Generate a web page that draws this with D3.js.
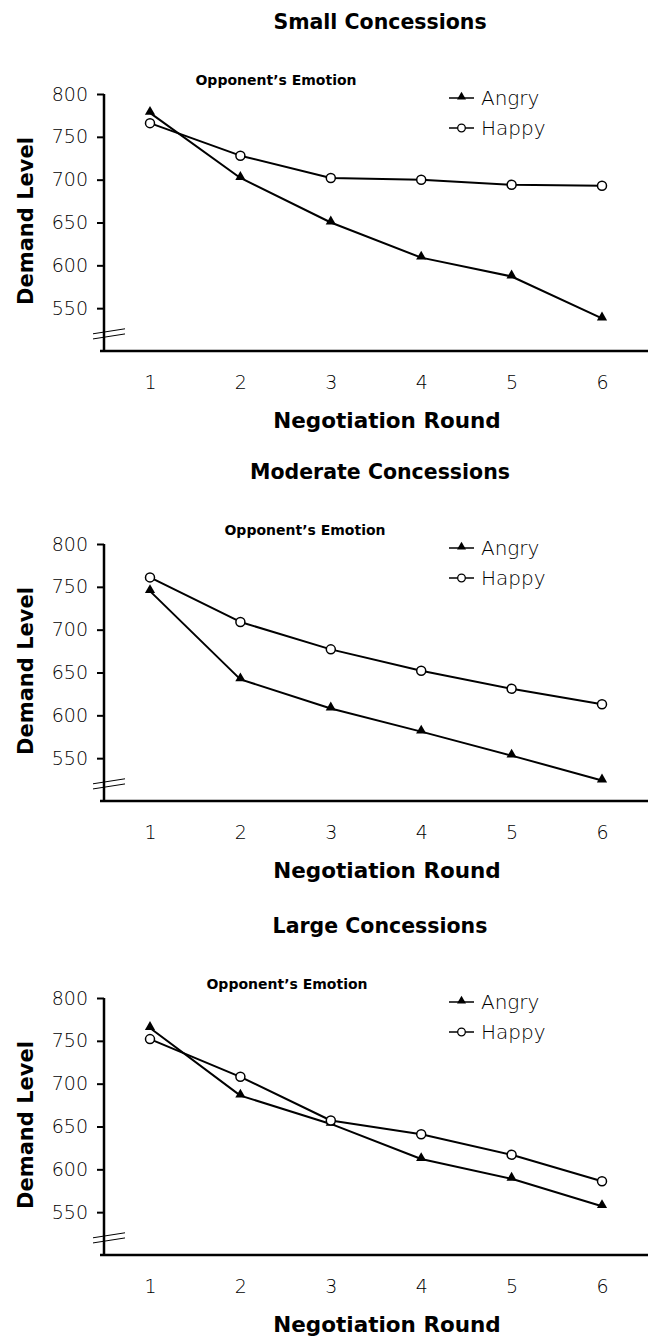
<!DOCTYPE html>
<html>
<head>
<meta charset="utf-8">
<script src="https://cdn.jsdelivr.net/npm/d3@7"></script>
<style>
  body { margin: 0; background: #fff; }
  svg { display: block; font-family: "DejaVu Sans", sans-serif; }
</style>
</head>
<body>
<svg width="652" height="1337"></svg>
<script>
// data
var rounds = [1, 2, 3, 4, 5, 6];
var yTicks = [550, 600, 650, 700, 750, 800];
var panelTitles = ["Small Concessions", "Moderate Concessions", "Large Concessions"];
var seriesNames = ["Angry", "Happy"];

var angrySmall = [778, 702, 650, 609, 587, 538];
var happySmall = [766, 728, 702, 700, 694, 693];
var angryModerate = [745, 642, 608, 581, 553, 524];
var happyModerate = [761, 709, 677, 652, 631, 613];
var angryLarge = [765, 686, 653, 612, 589, 557];
var happyLarge = [752, 708, 657, 641, 617, 586];

var panels = [
  { title: panelTitles[0], angry: angrySmall, happy: happySmall },
  { title: panelTitles[1], angry: angryModerate, happy: happyModerate },
  { title: panelTitles[2], angry: angryLarge, happy: happyLarge }
];

// layout
var svg = d3.select("svg"),
  axisX = 104,
  plotH = 257,
  panelTop = [94, 544, 998],
  emotionX = [276, 305, 287];

var x = d3.scaleLinear().domain([1, 6]).range([150, 602]);

var triangle = d3.symbol().type(d3.symbolTriangle);

panels.forEach(function(p, i) {
  var top = panelTop[i];
  var y = d3.scaleLinear().domain([500, 800]).range([top + plotH, top]);
  var g = svg.append("g");

  // title
  g.append("text")
    .attr("x", 380).attr("y", top - 72)
    .attr("text-anchor", "middle")
    .attr("dominant-baseline", "central")
    .attr("font-weight", "bold")
    .attr("font-size", 20.5)
    .text(p.title);

  g.append("text")
    .attr("x", emotionX[i]).attr("y", top - 14)
    .attr("text-anchor", "middle")
    .attr("dominant-baseline", "central")
    .attr("font-weight", "bold")
    .attr("font-size", 14)
    .text("Opponent\u2019s Emotion");

  // y axis
  var ya = g.append("g")
    .attr("transform", "translate(" + axisX + ",0)")
    .call(d3.axisLeft(y).tickValues(yTicks).tickSize(7).tickPadding(9));
  ya.select(".domain").remove();
  ya.selectAll(".tick line").attr("stroke", "#000").attr("stroke-width", 2);
  ya.selectAll(".tick text")
    .attr("font-family", "DejaVu Sans")
    .attr("font-size", 19)
    .attr("font-weight", 300)
    .attr("fill", "#000");

  g.append("line")
    .attr("x1", axisX).attr("x2", axisX)
    .attr("y1", y(800)).attr("y2", y(500))
    .attr("stroke", "#000").attr("stroke-width", 2.5);

  // axis break marks
  [523, 517].forEach(function(v) {
    g.append("line")
      .attr("x1", axisX - 11).attr("y1", y(v) + 2.5)
      .attr("x2", axisX + 21).attr("y2", y(v) - 2.5)
      .attr("stroke", "#000").attr("stroke-width", 1);
  });

  // x axis
  var xa = g.append("g")
    .attr("transform", "translate(0," + y(500) + ")")
    .call(d3.axisBottom(x).tickValues(rounds).tickFormat(d3.format("d")).tickSize(0).tickPadding(25));
  xa.select(".domain").remove();
  xa.selectAll(".tick text")
    .attr("font-family", "DejaVu Sans")
    .attr("font-size", 19)
    .attr("font-weight", 300)
    .attr("fill", "#000");

  g.append("line")
    .attr("x1", axisX - 4).attr("x2", 648)
    .attr("y1", y(500)).attr("y2", y(500))
    .attr("stroke", "#000").attr("stroke-width", 2.5);

  g.append("text")
    .attr("x", 387).attr("y", top + 326)
    .attr("text-anchor", "middle")
    .attr("dominant-baseline", "central")
    .attr("font-weight", "bold")
    .attr("font-size", 21.5)
    .text("Negotiation Round");

  g.append("text")
    .attr("transform", "translate(26," + (top + 127) + ") rotate(-90)")
    .attr("text-anchor", "middle")
    .attr("dominant-baseline", "central")
    .attr("font-weight", "bold")
    .attr("font-size", 21)
    .text("Demand Level");

  // lines
  var line = d3.line()
    .x(function(d, j) { return x(rounds[j]); })
    .y(function(d) { return y(d); });

  [p.angry, p.happy].forEach(function(vals) {
    g.append("path")
      .datum(vals)
      .attr("fill", "none")
      .attr("stroke", "#000")
      .attr("stroke-width", 2)
      .attr("stroke-linejoin", "round")
      .attr("d", line);
  });

  g.selectAll(".tri")
    .data(p.angry)
    .enter().append("path")
    .attr("class", "tri")
    .attr("transform", function(d, j) { return "translate(" + x(rounds[j]) + "," + (y(d) - 1) + ")"; })
    .attr("d", triangle.size(45))
    .attr("fill", "#000");

  g.selectAll(".circ")
    .data(p.happy)
    .enter().append("circle")
    .attr("class", "circ")
    .attr("cx", function(d, j) { return x(rounds[j]); })
    .attr("cy", function(d) { return y(d); })
    .attr("r", 4.5)
    .attr("fill", "#fff")
    .attr("stroke", "#000")
    .attr("stroke-width", 1.5);

  // legend
  seriesNames.forEach(function(name, k) {
    var ly = top + 4 + k * 30;
    g.append("line")
      .attr("x1", 449).attr("x2", 474)
      .attr("y1", ly).attr("y2", ly)
      .attr("stroke", "#000").attr("stroke-width", 1.5);
    if (k == 0) {
      g.append("path")
        .attr("transform", "translate(461.5," + (ly - 1) + ")")
        .attr("d", triangle.size(35))
        .attr("fill", "#000");
    } else {
      g.append("circle")
        .attr("cx", 461.5).attr("cy", ly).attr("r", 3.8)
        .attr("fill", "#fff").attr("stroke", "#000").attr("stroke-width", 1.3);
    }
    g.append("text")
      .attr("x", 481).attr("y", ly)
      .attr("dominant-baseline", "central")
      .attr("font-size", 20)
      .attr("font-weight", 300)
      .text(name);
  });
});
</script>
</body>
</html>
